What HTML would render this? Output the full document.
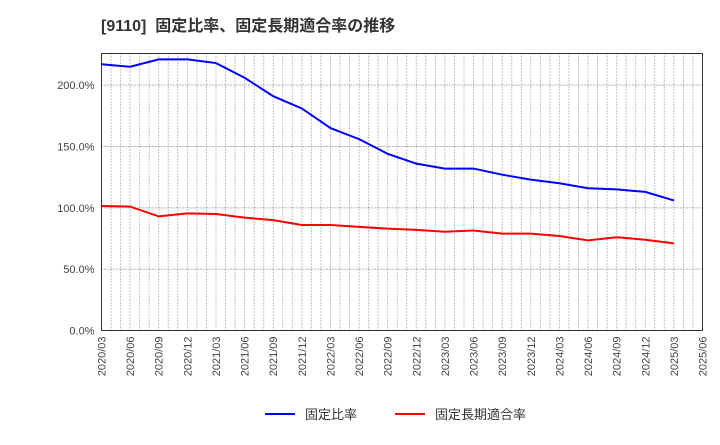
<!DOCTYPE html>
<html><head><meta charset="utf-8"><style>
body{margin:0;background:#fff;font-family:"Liberation Sans","Noto Sans CJK JP",sans-serif;}
</style></head><body>
<svg id="c" width="720" height="440" xmlns="http://www.w3.org/2000/svg">
<text x="101" y="31" font-size="16" font-weight="bold" fill="#333" font-family="Liberation Sans, Noto Sans CJK JP, sans-serif">[9110]&#160;&#160;固定比率、固定長期適合率の推移</text>
<g id="grid"></g><g id="axes"></g><g id="series"></g>
<g>
<line x1="265" y1="414" x2="295" y2="414" stroke="#0000ff" stroke-width="2"/>
<text x="305" y="419" font-size="13" fill="#333">固定比率</text>
<line x1="395" y1="414" x2="425" y2="414" stroke="#ff0000" stroke-width="2"/>
<text x="435" y="419" font-size="13" fill="#333">固定長期適合率</text>
</g>
</svg>
<script>
const categories=["2020/03","2020/06","2020/09","2020/12","2021/03","2021/06","2021/09","2021/12","2022/03","2022/06","2022/09","2022/12","2023/03","2023/06","2023/09","2023/12","2024/03","2024/06","2024/09","2024/12","2025/03","2025/06"];
const fixedRatio=[217,215,221,221,218,206,191,181,165,156,144,136,132,132,127,123,120,116,115,113,106];
const longTermRatio=[101.5,101,93,95.5,95,92,90,86,86,84.5,83,82,80.5,81.5,79,79,77,73.5,76,74,71];
const yTicks=[0,50,100,150,200];
const yTickLabels=["0.0%","50.0%","100.0%","150.0%","200.0%"];
const L=101.5,R=702.5,T=53.5,B=330.5,yMax=225.8;
const ns="http://www.w3.org/2000/svg";
const xs=i=>L+(R-L)*i/(categories.length-1);
const ys=v=>B-(B-T)*v/yMax;
function mk(t,a,p){const e=document.createElementNS(ns,t);for(const k in a)e.setAttribute(k,a[k]);p.appendChild(e);return e;}
const g=document.getElementById('grid'),ax=document.getElementById('axes'),s=document.getElementById('series');
const nm=(categories.length-1)*3;
for(let m=1;m<nm;m++){const x=L+(R-L)*m/nm;const l=mk('line',{x1:x,y1:T,x2:x,y2:B,stroke:'#888','stroke-dasharray':'1,2','stroke-width':1},g);

}
yTicks.forEach((v,i)=>{const y=ys(v);if(v>0){const l=mk('line',{x1:L,y1:y,x2:R,y2:y,stroke:'#666','stroke-dasharray':'1,2'},g);

}
const t=mk('text',{x:L-7,y:y+4,'text-anchor':'end','font-size':11,fill:'#444'},ax);t.textContent=yTickLabels[i];

});
const fr=mk('rect',{x:L,y:T,width:R-L,height:B-T,fill:'none',stroke:'#333'},ax);


categories.forEach((c,i)=>{const x=xs(i);const t=mk('text',{x:x+4,y:B+6,'text-anchor':'end','font-size':11,fill:'#444',transform:`rotate(-90 ${x+4} ${B+6})`},ax);t.textContent=c;

});
function line(d,col,name){const p=mk('polyline',{points:d.map((v,i)=>xs(i)+','+ys(v)).join(' '),fill:'none',stroke:col,'stroke-width':2},s);

}
line(fixedRatio,'#0000ff','fixed-ratio-line');
line(longTermRatio,'#ff0000','long-term-ratio-line');
</script>
</body></html>
